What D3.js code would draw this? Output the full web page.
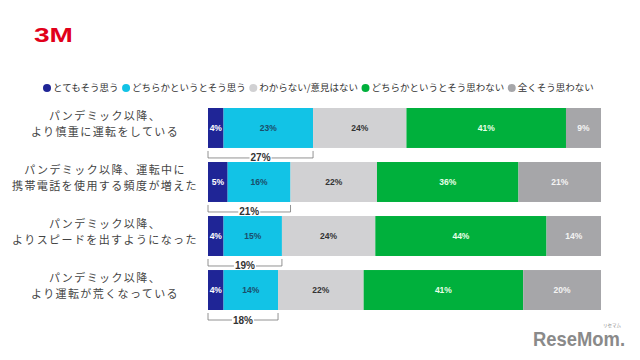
<!DOCTYPE html>
<html><head><meta charset="utf-8">
<script src="https://cdn.jsdelivr.net/npm/d3@7"></script>
<style>body{margin:0;background:#fff}svg{display:block}</style>
</head><body>
<svg id="c" width="640" height="360"></svg>
<script>
const categories = [
  ["パンデミック以降、", "より慎重に運転をしている"],
  ["パンデミック以降、運転中に", "携帯電話を使用する頻度が増えた"],
  ["パンデミック以降、", "よりスピードを出すようになった"],
  ["パンデミック以降、", "より運転が荒くなっている"]
];
const seriesNames = ["とてもそう思う", "どちらかというとそう思う", "わからない/意見はない", "どちらかというとそう思わない", "全くそう思わない"];
const veryAgree = [4, 5, 4, 4];
const somewhatAgree = [23, 16, 15, 14];
const neutral = [24, 22, 24, 22];
const somewhatDisagree = [41, 36, 44, 41];
const stronglyDisagree = [9, 21, 14, 20];
const agreeTotals = [27, 21, 19, 18];

const colors = ["#1f2596", "#12c3e6", "#d1d1d3", "#00b03c", "#a6a6a9"];
const textColors = ["#ffffff", "#1b4e6b", "#333333", "#e8ffe8", "#f4f4f4"];
const series = [veryAgree, somewhatAgree, neutral, somewhatDisagree, stronglyDisagree];

const svg = d3.select("#c");
const font = "'Noto Sans CJK JP', 'Noto Sans', sans-serif";
const numFont = "'Liberation Sans', Arial, sans-serif";

// logo
svg.append("text").attr("x", 34).attr("y", 42).text("3M")
  .attr("font-family", numFont).attr("font-weight", 900).attr("font-size", 21)
  .attr("textLength", 39).attr("lengthAdjust", "spacingAndGlyphs").attr("fill", "#e1001a");

// legend
const lg = svg.append("g").attr("transform", "translate(43,88)");
let lx = 0;
seriesNames.forEach((n, i) => {
  lg.append("circle").attr("cx", lx + 4).attr("cy", 0).attr("r", 4).attr("fill", colors[i]);
  const t = lg.append("text").attr("x", lx + 10).attr("y", 0).attr("dy", "0.35em")
    .attr("font-family", font).attr("font-size", 9.5).attr("fill", "#333").text(n);
  lx += 10 + t.node().getComputedTextLength() + 3.5;
});

const idx = d3.range(categories.length);
const y = d3.scaleBand().domain(idx).range([108, 310]).paddingInner(0.26).paddingOuter(0);
const x0 = 208, x1 = 601;

idx.forEach(r => {
  const vals = series.map(s => s[r]);
  const total = d3.sum(vals);
  const x = d3.scaleLinear().domain([0, total]).range([x0, x1]);
  let cum = 0;
  const g = svg.append("g");
  vals.forEach((v, i) => {
    const a = x(cum), b = x(cum + v);
    g.append("rect").attr("x", a).attr("y", y(r)).attr("width", b - a).attr("height", y.bandwidth()).attr("fill", colors[i]);
    g.append("text").attr("x", (a + b) / 2).attr("y", y(r) + y.bandwidth() / 2).attr("dy", "0.35em")
      .attr("text-anchor", "middle").attr("font-family", numFont).attr("font-weight", "bold")
      .attr("font-size", 8.5).attr("fill", textColors[i]).text(v + "%");
    cum += v;
  });
  // bracket
  const bx0 = x(0), bx1 = x(vals[0] + vals[1]);
  const by0 = y(r) + y.bandwidth() + 3, by1 = by0 + 7;
  const cx = (bx0 + bx1) / 2;
  const lab = g.append("text").attr("x", cx).attr("y", by1).attr("dy", "0.35em").attr("text-anchor", "middle")
    .attr("font-family", numFont).attr("font-weight", "bold").attr("font-size", 10).attr("fill", "#333")
    .text(agreeTotals[r] + "%");
  const w = lab.node().getComputedTextLength();
  const pth = `M${bx0},${by0}V${by1}H${cx - w / 2 - 1}M${cx + w / 2 + 1},${by1}H${bx1}V${by0}`;
  g.append("path").attr("d", pth).attr("fill", "none").attr("stroke", "#777").attr("stroke-width", 0.8);
  // category labels
  const cyc = y(r) + y.bandwidth() / 2;
  categories[r].forEach((line, li) => {
    svg.append("text").attr("x", 105).attr("y", cyc - 4 + (li - 0.5) * 16).attr("dy", "0.35em")
      .attr("text-anchor", "middle").attr("font-family", font).attr("font-size", 11)
      .attr("letter-spacing", 1.4).attr("fill", "#444").text(line);
  });
});

// watermark
svg.append("text").attr("x", 533).attr("y", 346)
  .attr("font-family", numFont).attr("font-weight", "bold").attr("font-size", 21)
  .attr("textLength", 92).attr("lengthAdjust", "spacingAndGlyphs").attr("fill", "#8a8a8a").text("ReseMom.");
svg.append("text").attr("x", 612).attr("y", 327).attr("text-anchor", "middle")
  .attr("font-family", font).attr("font-size", 4.5).attr("fill", "#8a8a8a").text("リセマム");
</script>
</body></html>
